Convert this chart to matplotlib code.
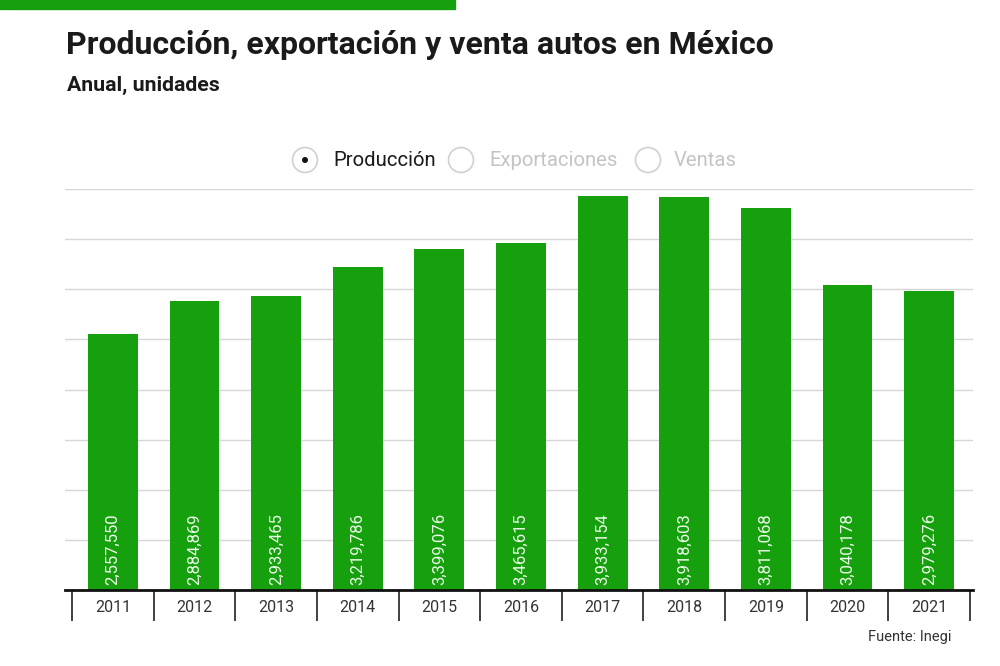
import matplotlib.pyplot as plt
import numpy as np
from matplotlib.patches import Rectangle, Ellipse

# datos (Inegi)
years = ['2011', '2012', '2013', '2014', '2015', '2016',
         '2017', '2018', '2019', '2020', '2021']
produccion = [2557550, 2884869, 2933465, 3219786, 3399076, 3465615,
              3933154, 3918603, 3811068, 3040178, 2979276]
legend_items = ['Producción', 'Exportaciones', 'Ventas']

green = '#16a00e'
plt.rcParams['font.family'] = ['Roboto', 'DejaVu Sans']

fig = plt.figure(figsize=(10, 6.66), dpi=100)
ax = fig.add_axes([0.065, 1 - 590 / 666, 0.908, 401 / 666])

x = np.arange(len(years))
bars = ax.bar(x, produccion, width=0.61, color=green, zorder=2)

for xi, v in zip(x, produccion):
    ax.text(xi, 50000, '{:,}'.format(v), rotation=90, ha='center', va='bottom',
            color='#eefbea', fontsize=12, zorder=3)

ax.set_xlim(-0.586, 10.537)
ax.set_ylim(0, 4000000)
ax.set_yticks(np.arange(0, 4000001, 500000))
ax.yaxis.grid(True, color='#d6d6d6', lw=1)
ax.set_axisbelow(True)
ax.tick_params(axis='y', length=0, labelleft=False)

ax.set_xticks(x)
ax.set_xticklabels(years, fontsize=11.5, color='#333333')
ax.set_xticks(np.arange(-0.5, len(years)), minor=True)
ax.tick_params(axis='x', which='major', length=0, pad=7)
ax.tick_params(axis='x', which='minor', length=22, width=1.3, color='#333333', direction='out')

for s in ['top', 'right', 'left']:
    ax.spines[s].set_visible(False)
ax.spines['bottom'].set_linewidth(2)
ax.spines['bottom'].set_color('#111111')

# barra verde superior
fig.patches.append(Rectangle((0, 1 - 9 / 666), 0.455, 9 / 666, transform=fig.transFigure,
                             color=green, zorder=5))

fig.text(0.066, 1 - 45 / 666, 'Producción, exportación y venta autos en México',
         fontsize=23, fontweight='bold', color='#1a1a1a', va='center')
fig.text(0.067, 1 - 85 / 666, 'Anual, unidades', fontsize=15.3, fontweight='bold',
         color='#1a1a1a', va='center')

# leyenda tipo botones
ly = 1 - 160 / 666
circ_x = [305, 461, 648]
txt_x = [333, 489, 674]
for i, (cx, tx, lab) in enumerate(zip(circ_x, txt_x, legend_items)):
    fig.add_artist(Ellipse((cx / 1000, ly), 25 / 1000, 25 / 666, transform=fig.transFigure,
                           facecolor='white', edgecolor='#d0d0d0', lw=1.2))
    fig.text(tx / 1000, ly, lab, fontsize=14.6, va='center',
             color='#1a1a1a' if i == 0 else '#c4c4c4')
fig.add_artist(Ellipse((305 / 1000, ly), 6 / 1000, 6 / 666, transform=fig.transFigure,
                       facecolor='#111111', edgecolor='none'))

fig.text(0.952, 1 - 637 / 666, 'Fuente: Inegi', fontsize=10.5, ha='right', va='center',
         color='#333333')

plt.savefig('out.png', dpi=100)
